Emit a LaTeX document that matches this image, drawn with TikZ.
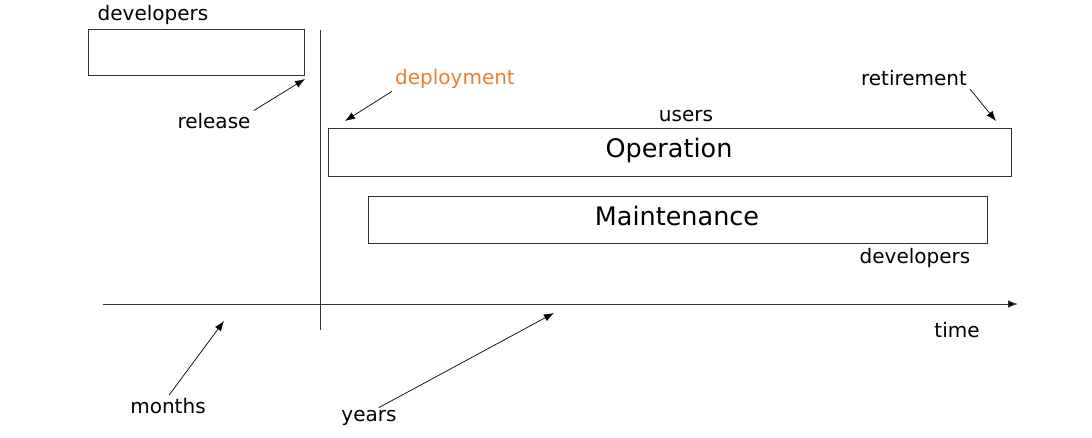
\documentclass[tikz,border=0pt]{standalone}
\usepackage{fontspec}
\setmainfont{DejaVu Sans}
\usepackage{xcolor}
\usetikzlibrary{positioning,arrows.meta}
\definecolor{deploy}{HTML}{ED7D31}
\definecolor{linegray}{HTML}{333333}
\tikzset{
  lbl/.style     ={inner sep=1.5pt, font=\fontsize{20}{24}\selectfont},
  phase/.style   ={draw=linegray, line width=0.9pt, inner sep=0pt},
  phasetext/.style={font=\fontsize{25.5}{30}\selectfont},
  % thin pointer from a label to a moment on the timeline
  callout/.style ={draw=black, line width=0.7pt, -{Latex[length=10pt,width=7.5pt]},
                   shorten <=2pt},
  axis/.style    ={draw=linegray, line width=1pt},
}
\begin{document}
\begin{tikzpicture}[x=1pt,y=-1pt]
\useasboundingbox (0,0) rectangle (1092,437);
% phases
\node[phase, minimum width=216pt, minimum height=46pt] (dev) at (196,52) {};
\node[phase, minimum width=683pt, minimum height=48pt] (op) at (669.5,152) {};
\node[phasetext] (optext) at (669,150) {Operation};
\node[phase, minimum width=619pt, minimum height=47pt] (mnt) at (677.5,219.5) {};
\node[phasetext] (mnttext) at (677,216) {Maintenance};
% who does it
\node[lbl] (devlbl) at (153,15) {developers};
\node[lbl] (users) at (686,116) {users};
\node[lbl] (mntdev) at (915,258) {developers};
% timeline
\coordinate (t0) at (103,304);
\coordinate (t1) at (1018,304);
\coordinate (v0) at (320,30);
\coordinate (v1) at (320,330);
\draw[axis, -{Latex[length=10pt,width=7.5pt,fill=black]}] (t0) -- (t1);
\draw[axis] (v0) -- (v1);
\node[lbl] (time) at (957,330) {time};
% events
\coordinate (relpt) at (305,79);
\coordinate (deppt) at (345,121);
\coordinate (retpt) at (996,121);
\coordinate (monpt) at (224,321);
\coordinate (yearpt) at (554,313);
\node[lbl] (release) at (214,121) {release};
\node[lbl, text=deploy] (deployment) at (455,79) {deployment};
\node[lbl] (retirement) at (914,78) {retirement};
\node[lbl] (months) at (168,406) {months};
\node[lbl] (years) at (369,418) {years};
\draw[callout] (release.north east) -- (relpt);
\draw[callout] (deployment.south west) -- (deppt);
\draw[callout] (retirement.south east) -- (retpt);
\draw[callout] (months.north) -- (monpt);
\draw[callout] ([xshift=8pt]years.north) -- (yearpt);
\end{tikzpicture}
\end{document}
